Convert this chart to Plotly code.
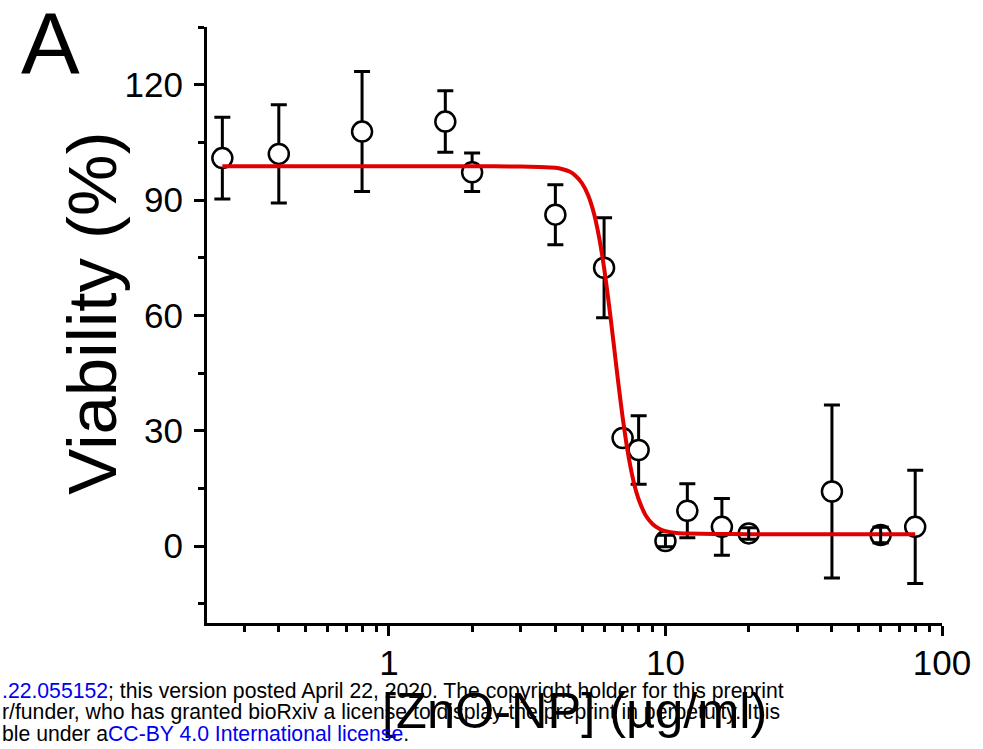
import math
import plotly.graph_objects as go

# ---- data ----
conc = [0.25, 0.4, 0.8, 1.6, 2, 4, 6, 7, 8, 10, 12, 16, 20, 40, 60, 80]
viability = [100.9, 102.0, 107.8, 110.4, 97.2, 86.2, 72.4, 28.1, 25.0, 1.3, 9.2, 5.0, 3.3, 14.2, 2.9, 5.0]
viability_err = [10.6, 12.8, 15.6, 8.0, 5.0, 7.8, 13.0, 0, 8.9, 1.5, 7.0, 7.4, 1.5, 22.5, 2.0, 14.7]

# fitted curve, points
fit_conc = [0.25, 1, 2, 3, 3.5, 4, 4.25, 4.5, 4.75, 5, 5.25, 5.5, 5.75, 6, 6.25, 6.5,
            6.75, 7, 7.25, 7.5, 7.75, 8, 8.5, 9, 9.5, 10, 11, 12, 15, 20, 40, 80]
fit_viability = [98.8, 98.8, 98.8, 98.7, 98.6, 98.4, 98.0, 97.4, 96.2, 94.3, 91.3, 86.8, 80.5, 72.4, 62.8, 52.6,
                 42.6, 33.6, 26.0, 20.1, 15.5, 12.2, 7.9, 5.7, 4.5, 3.9, 3.4, 3.25, 3.15, 3.1, 3.1, 3.1]

x_tickvals = [1, 10, 100]
x_ticktext = ["1", "10", "100"]
x_minor = [0.3, 0.4, 0.5, 0.6, 0.7, 0.8, 0.9, 2, 3, 4, 5, 6, 7, 8, 9, 20, 30, 40, 50, 60, 70, 80, 90]
y_tickvals = [0, 30, 60, 90, 120]
y_minor = [-15, 15, 45, 75, 105, 135]

panel_label = "A"
x_title = "[ZnO-NP] (µg/ml)"
y_title = "Viability (%)"
watermark_lines = [
    '<span style="color:#0000ee">.22.055152</span>; this version posted April 22, 2020. The copyright holder for this preprint',
    "r/funder, who has granted bioRxiv a license to display the preprint in perpetuity. It is",
    'ble under a<span style="color:#0000ee">CC-BY 4.0 International license</span>.',
]

FONT = "Liberation Sans, Arial, Helvetica, sans-serif"
W, H = 983, 749
L, R, T, B = 207, 37, 27, 126
pw, ph = W - L - R, H - T - B

def px_to_paper_x(px):
    return (px - L) / pw

def px_to_paper_y(py):
    return (H - B - py) / ph

err_style = dict(type="data", visible=True, thickness=3, width=8, color="black")

fig = go.Figure()

# data points with error bars (white filled open circles)
fig.add_trace(go.Scatter(
    x=conc, y=viability, mode="markers",
    error_y=dict(array=viability_err, **err_style),
    marker=dict(symbol="circle", size=20, color="white",
                line=dict(color="black", width=2.5)),
    showlegend=False, hoverinfo="x+y",
))

# fitted curve
fig.add_trace(go.Scatter(
    x=fit_conc, y=fit_viability, mode="lines",
    line=dict(color="#e00000", width=4, shape="spline", smoothing=0.6),
    showlegend=False, hoverinfo="skip",
))

# small error bars that sit inside the circles drawn on top
small_idx = [i for i, e in enumerate(viability_err) if 0 < e < 3]
fig.add_trace(go.Scatter(
    x=[conc[i] for i in small_idx], y=[viability[i] for i in small_idx],
    mode="markers",
    error_y=dict(array=[viability_err[i] for i in small_idx], **err_style),
    marker=dict(size=1, color="rgba(0,0,0,0)"),
    showlegend=False, hoverinfo="skip",
))

annotations = [
    dict(text=panel_label, xref="paper", yref="paper",
         x=px_to_paper_x(50), y=px_to_paper_y(44), xanchor="center", yanchor="middle",
         showarrow=False, font=dict(family=FONT, size=88, color="black")),
    dict(text=y_title, xref="paper", yref="paper", textangle=-90,
         x=px_to_paper_x(91), y=px_to_paper_y(313), xanchor="center", yanchor="middle",
         showarrow=False, font=dict(family=FONT, size=69, color="black")),
    dict(text=x_title, xref="paper", yref="paper",
         x=px_to_paper_x(577), y=px_to_paper_y(710), xanchor="center", yanchor="middle",
         showarrow=False, font=dict(family=FONT, size=50.5, color="black")),
]
for i, line in enumerate(watermark_lines):
    annotations.append(dict(
        text=line, xref="paper", yref="paper",
        x=px_to_paper_x(-1), y=px_to_paper_y(691 + 21 * i), xanchor="left", yanchor="middle",
        showarrow=False, font=dict(family=FONT, size=21.2, color="black"),
    ))

fig.update_layout(
    width=W, height=H, autosize=False,
    margin=dict(l=L, r=R, t=T, b=B, pad=0),
    paper_bgcolor="white", plot_bgcolor="white",
    font=dict(family=FONT, color="black"),
    showlegend=False,
    annotations=annotations,
    xaxis=dict(
        type="log", range=[math.log10(0.22), 2],
        tickmode="array", tickvals=x_tickvals, ticktext=x_ticktext,
        ticks="outside", ticklen=10, tickwidth=3, tickcolor="black",
        ticklabelstandoff=-3,
        minor=dict(tickmode="array", tickvals=x_minor, ticks="outside",
                   ticklen=6, tickwidth=2.5, tickcolor="black", showgrid=False),
        showline=True, linecolor="black", linewidth=3,
        showgrid=False, zeroline=False,
        tickfont=dict(family=FONT, size=35, color="black"),
    ),
    yaxis=dict(
        range=[-20, 135],
        tickmode="array", tickvals=y_tickvals,
        ticks="outside", ticklen=10, tickwidth=3, tickcolor="black",
        ticklabelstandoff=4,
        minor=dict(tickmode="array", tickvals=y_minor, ticks="outside",
                   ticklen=6, tickwidth=2.5, tickcolor="black", showgrid=False),
        showline=True, linecolor="black", linewidth=3,
        showgrid=False, zeroline=False,
        tickfont=dict(family=FONT, size=35, color="black"),
    ),
)

fig.write_html(
    "out.html",
    config={"displayModeBar": False},
    post_script="document.body.style.margin='0px';document.body.style.overflow='hidden';",
)
